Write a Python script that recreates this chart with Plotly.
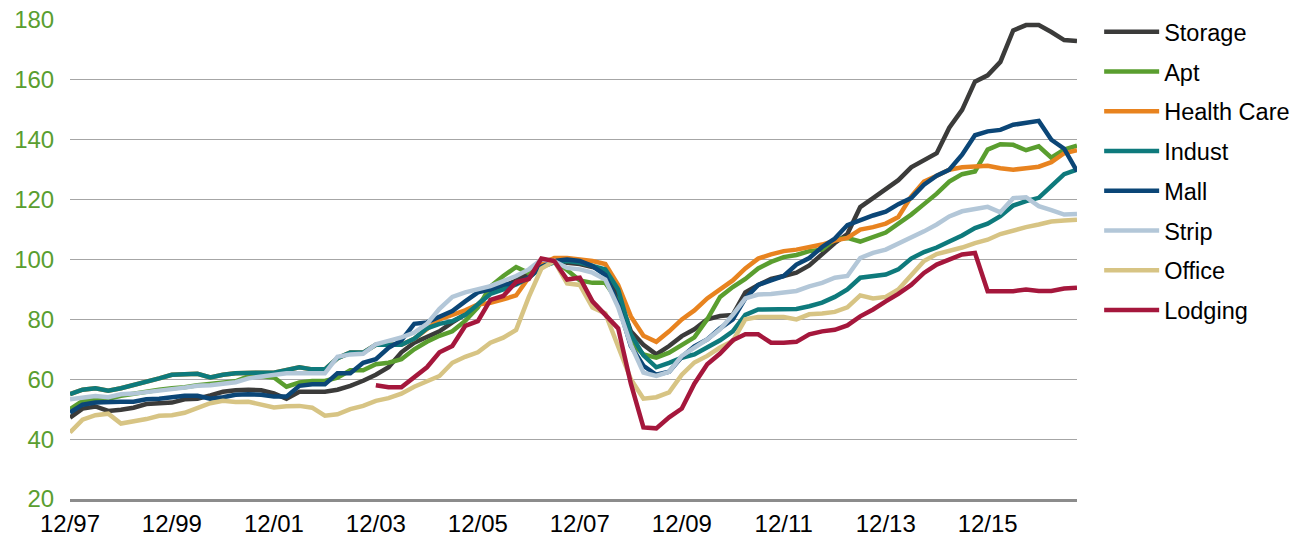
import pandas as pd
import plotly.graph_objects as go

# Quarterly observations, Dec 1997 .. Sep 2017
dates = pd.date_range("1997-12-01", periods=80, freq="3MS").strftime("%Y-%m-%d").tolist()

storage = [47.2, 50.2, 50.9, 49.4, 49.8, 50.5, 51.7, 52.0, 52.2, 53.3, 53.5, 54.6, 55.8, 56.3, 56.5, 56.3,
           55.3, 53.5, 55.8, 55.8, 55.8, 56.5, 57.8, 59.5, 61.5, 64.0, 69.0, 72.2, 74.0, 76.0, 79.0, 81.7,
           85.0, 89.0, 91.0, 93.0, 95.5, 99.0, 100.0, 98.9, 98.5, 97.5, 96.0, 88.0, 76.0, 71.5, 68.3, 71.1,
           74.4, 76.7, 80.0, 81.1, 81.5, 89.0, 91.5, 93.5, 94.5, 95.6, 98.0, 102.0, 105.5, 108.5, 117.5, 120.5,
           123.5, 126.5, 130.8, 133.0, 135.5, 144.0, 150.0, 159.4, 161.5, 166.0, 176.5, 178.3, 178.3, 176.0, 173.3, 173.0]

apt = [50.0, 52.8, 53.3, 53.5, 54.5, 55.2, 56.0, 56.5, 57.0, 57.3, 58.0, 58.5, 59.0, 59.3, 61.0, 61.0,
       60.6, 57.5, 58.9, 59.4, 59.4, 60.5, 63.0, 63.0, 65.0, 65.5, 66.7, 70.0, 72.5, 74.5, 76.0, 79.5,
       84.0, 91.0, 94.5, 97.5, 95.5, 99.5, 100.0, 96.5, 93.0, 92.2, 92.2, 86.0, 72.5, 68.3, 67.2, 68.9,
       71.5, 74.0, 80.0, 87.5, 90.8, 93.5, 97.0, 99.2, 100.8, 101.5, 102.8, 103.3, 106.7, 107.2, 106.0, 107.5,
       109.0, 112.0, 115.0, 118.5, 122.0, 126.0, 128.5, 129.4, 136.7, 138.5, 138.3, 136.5, 137.8, 134.0, 136.7, 138.0]

indust = [55.0, 56.5, 57.0, 56.2, 57.0, 58.0, 59.0, 60.3, 61.5, 61.5, 61.8, 60.6, 61.5, 62.0, 62.2, 62.2,
          62.2, 63.0, 64.0, 63.3, 63.3, 67.0, 68.9, 68.9, 71.5, 71.5, 71.5, 73.5, 77.0, 78.5, 79.4, 81.5,
          85.0, 88.5, 90.0, 91.7, 93.9, 97.5, 99.0, 99.5, 99.0, 97.8, 96.7, 90.0, 75.0, 68.0, 64.0, 65.5,
          67.2, 68.3, 70.5, 73.0, 76.0, 81.5, 83.3, 83.3, 83.3, 83.5, 84.4, 85.6, 87.5, 90.0, 93.9, 94.4,
          95.0, 96.7, 100.3, 102.5, 104.0, 106.0, 108.0, 110.5, 112.0, 114.5, 118.0, 119.5, 120.6, 124.5, 128.5, 130.0]

health_care = indust[:29] + [
    80.0, 81.5, 83.0, 85.0, 85.5, 86.7, 88.0, 94.0, 98.5, 100.5, 100.5, 100.0, 99.5, 98.5, 91.5, 81.0,
    74.5, 72.5, 76.0, 80.0, 83.0, 87.0, 90.0, 93.0, 97.0, 100.3, 101.7, 102.8, 103.3, 104.0, 105.0, 106.3,
    107.2, 110.0, 110.8, 112.0, 114.2, 121.0, 126.0, 128.0, 130.0, 130.8, 131.0, 131.3, 130.5, 130.0, 130.5, 131.0,
    132.5, 135.5, 136.5]

mall = [48.9, 51.5, 52.2, 52.5, 52.5, 52.5, 53.3, 53.5, 54.0, 54.5, 54.5, 53.5, 54.0, 54.8, 55.0, 54.8,
        54.2, 54.2, 57.8, 58.3, 58.3, 62.0, 62.0, 65.5, 66.7, 70.5, 73.0, 78.5, 79.0, 81.0, 82.8, 86.0,
        89.0, 90.0, 91.7, 92.0, 94.0, 97.5, 99.5, 100.0, 99.5, 97.8, 94.8, 85.0, 71.1, 64.5, 61.5, 62.5,
        67.5, 71.0, 73.3, 77.0, 80.0, 87.0, 91.5, 93.0, 94.5, 98.3, 100.5, 104.2, 107.0, 111.5, 113.2, 114.7,
        116.0, 118.5, 120.5, 125.0, 128.0, 130.0, 135.0, 141.5, 142.8, 143.3, 145.0, 145.6, 146.3, 140.0, 137.0, 129.5]

strip = [53.3, 54.0, 54.4, 54.0, 55.0, 55.2, 55.6, 56.2, 56.7, 57.2, 57.8, 58.0, 58.5, 59.0, 60.3, 60.8,
         61.3, 62.0, 62.0, 62.0, 62.0, 67.5, 68.3, 68.5, 71.7, 72.8, 74.0, 75.6, 78.5, 83.5, 87.5, 89.0,
         90.0, 91.1, 92.8, 94.5, 96.7, 100.0, 99.4, 97.2, 96.7, 95.6, 93.3, 84.0, 71.5, 62.2, 61.1, 62.5,
         67.8, 70.6, 73.3, 76.7, 81.5, 87.0, 88.3, 88.5, 88.9, 89.5, 91.0, 92.2, 93.9, 94.5, 100.5, 102.2,
         103.3, 105.3, 107.0, 109.4, 111.7, 114.4, 116.1, 117.0, 117.6, 115.8, 120.5, 120.8, 117.8, 116.5, 115.0, 115.2]

office = [42.2, 46.5, 48.0, 48.5, 45.2, 45.8, 46.7, 47.8, 48.0, 48.8, 50.5, 52.0, 52.8, 52.4, 52.5, 51.5,
          50.6, 51.0, 51.1, 50.5, 47.8, 48.3, 50.0, 51.1, 52.8, 53.7, 55.2, 57.5, 59.4, 61.1, 65.5, 67.5,
          69.0, 72.2, 73.9, 76.5, 87.5, 97.0, 99.5, 92.0, 91.5, 84.0, 82.0, 71.0, 60.0, 53.5, 54.0, 55.6,
          61.5, 65.6, 67.8, 70.6, 72.8, 80.0, 80.8, 80.8, 80.8, 80.0, 81.7, 82.0, 82.5, 84.0, 88.0, 87.0,
          87.5, 90.0, 94.5, 99.5, 101.8, 102.8, 104.0, 105.5, 106.6, 108.5, 109.8, 110.8, 111.7, 112.7, 113.0, 113.3]

lodging = [None] * 24 + [
    58.0, 57.3, 57.3, 60.5, 64.0, 69.0, 71.1, 77.8, 79.4, 86.5, 87.8, 92.5, 93.5, 100.3, 99.5, 93.3,
    93.9, 86.0, 81.5, 77.0, 58.5, 43.9, 43.6, 47.3, 50.2, 58.5, 65.0, 68.6, 73.0, 75.0, 75.0, 72.2,
    72.2, 72.5, 75.0, 76.0, 76.5, 78.0, 81.0, 83.3, 86.0, 88.5, 91.5, 95.5, 98.3, 100.0, 101.7, 102.2,
    89.4, 89.4, 89.4, 90.0, 89.5, 89.5, 90.3, 90.6]

series_names = ["Storage", "Apt", "Health Care", "Indust", "Mall", "Strip", "Office", "Lodging"]
series_values = [storage, apt, health_care, indust, mall, strip, office, lodging]
series_colors = ["#3b3b3a", "#5a9e2f", "#e8831f", "#0e7a7c", "#0b4677", "#b3c7d8", "#d7c484", "#a5173c"]

tick_dates = ["1997-12-01", "1999-12-01", "2001-12-01", "2003-12-01", "2005-12-01",
              "2007-12-01", "2009-12-01", "2011-12-01", "2013-12-01", "2015-12-01"]
tick_labels = ["12/97", "12/99", "12/01", "12/03", "12/05", "12/07", "12/09", "12/11", "12/13", "12/15"]
y_ticks = [20, 40, 60, 80, 100, 120, 140, 160, 180]

FONT = "Liberation Sans, Arial, Helvetica, sans-serif"

fig = go.Figure()
for name, vals, color in zip(series_names, series_values, series_colors):
    fig.add_trace(go.Scatter(
        x=dates, y=vals, mode="lines", name=name, legendgroup=name,
        line=dict(color=color, width=4.5), connectgaps=False,
    ))

fig.update_layout(
    width=1304, height=541, autosize=False,
    margin=dict(l=70, r=227, t=20, b=42, autoexpand=False),
    paper_bgcolor="white", plot_bgcolor="white",
    font=dict(family=FONT, size=24, color="black"),
    showlegend=True,
    legend=dict(
        x=1.022, y=0.685, xanchor="left", yanchor="middle",
        font=dict(family=FONT, size=23.5, color="black"),
        traceorder="grouped", tracegroupgap=6.2, itemwidth=55,
        bgcolor="rgba(0,0,0,0)",
    ),
    xaxis=dict(
        type="date", range=["1997-12-01", "2017-09-01"],
        tickmode="array", tickvals=tick_dates, ticktext=tick_labels,
        showgrid=False, zeroline=False,
        showline=True, linecolor="#8c8c8c", linewidth=3,
        ticks="outside", ticklen=1, tickcolor="rgba(0,0,0,0)",
        tickfont=dict(family=FONT, size=24, color="black"),
        ticklabeloverflow="allow",
    ),
    yaxis=dict(
        range=[20, 180], tickmode="array", tickvals=y_ticks,
        showgrid=True, gridcolor="#a6a6a6", gridwidth=1,
        zeroline=False, showline=False,
        ticks="outside", ticklen=10, tickcolor="rgba(0,0,0,0)",
        tickfont=dict(family=FONT, size=24, color="#5a9e2f"),
        ticklabeloverflow="allow",
    ),
)

# Remove the browser's default 8px body margin so the figure fills the window exactly
fig.write_html("out.html", config={"displayModeBar": False},
               post_script="document.body.style.margin='0px';")
